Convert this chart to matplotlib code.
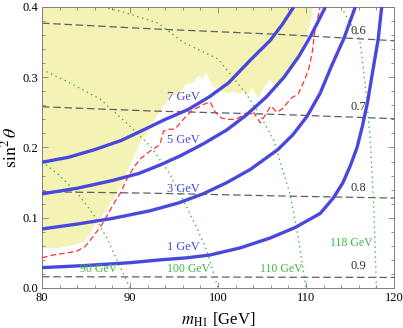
import numpy as np
from matplotlib import pyplot as plt
from matplotlib.ticker import MultipleLocator

plt.rcParams['font.family'] = ['Liberation Serif', 'DejaVu Serif']
plt.rcParams['mathtext.fontset'] = 'stix'

# datos leidos del grafico
# anchos de H1 (curvas azules)
w1_x = [80, 85, 90, 93.4, 96.5, 99.1, 102.5, 105.9, 108.75, 111.6, 113.1, 114.2, 115, 115.8, 116.4, 117.0, 117.6, 118.2, 118.6]
w1_y = [0.029, 0.032, 0.036, 0.040, 0.043, 0.047, 0.057, 0.071, 0.086, 0.106, 0.128, 0.150, 0.173, 0.200, 0.230, 0.265, 0.31, 0.354, 0.4]
w3_x = [80, 84, 88, 92.3, 95.5, 98.3, 101, 103.7, 106.8, 108.5, 110.1, 111.6, 112.9, 114.3, 115.6]
w3_y = [0.084, 0.091, 0.099, 0.110, 0.121, 0.134, 0.150, 0.169, 0.197, 0.218, 0.244, 0.277, 0.316, 0.355, 0.4]
w5_x = [80, 84, 88, 91, 93.4, 95.7, 98.3, 101, 103.1, 105.5, 107.5, 109.2, 110.5, 111.4, 112.2]
w5_y = [0.134, 0.142, 0.153, 0.163, 0.175, 0.188, 0.205, 0.225, 0.245, 0.272, 0.300, 0.330, 0.358, 0.38, 0.4]
w7_x = [80, 83, 86, 89, 91.7, 94, 96.6, 99, 101.2, 103.8, 105.9, 107.3, 108.6]
w7_y = [0.179, 0.186, 0.197, 0.210, 0.226, 0.240, 0.254, 0.272, 0.292, 0.326, 0.352, 0.375, 0.4]
anchos = ['1 GeV', '3 GeV', '5 GeV', '7 GeV']

# contornos grises
c_x = [80, 92.3, 107, 120]
c06 = [0.377, 0.369, 0.361, 0.352]
c07 = [0.258, 0.252, 0.247, 0.241]
c08 = [0.137, 0.135, 0.131, 0.128]
c09 = [0.016, 0.0158, 0.0153, 0.015]
c_lab = ['0.6', '0.7', '0.8', '0.9']

# masas (verde punteado)
m90_x = [80, 82, 84, 86, 87.5, 88.7, 90]
m90_y = [0.18, 0.16, 0.135, 0.102, 0.068, 0.035, 0.0]
m100_x = [80, 83, 86.6, 89.6, 92.3, 94.5, 96, 97.5, 98.7, 100]
m100_y = [0.311, 0.293, 0.269, 0.235, 0.202, 0.163, 0.126, 0.088, 0.054, 0.0]
m110_x = [87.0, 89.2, 93.2, 96, 100, 103.1, 104.6, 106.3, 108.2, 109.1, 110]
m110_y = [0.4, 0.393, 0.377, 0.35, 0.326, 0.278, 0.25, 0.211, 0.133, 0.073, 0.0]
m118_x = [114.0, 115.2, 116.1, 116.5, 116.9, 117.3, 117.7, 118.0]
m118_y = [0.4, 0.373, 0.354, 0.316, 0.269, 0.211, 0.116, 0.0]
masas = ['90 GeV', '100 GeV', '110 GeV', '118 GeV']

# limite rojo
r_x = [80, 81.3, 82.8, 83.9, 84.9, 85.8, 86.8, 87.35, 88.1, 88.9, 89.6, 90.4, 91.1, 92.3, 93.4, 93.8,
       94.35, 95.1, 95.9, 97.0, 98.3, 99.1, 99.7, 100.4, 101.2, 102.0, 102.7, 103.4, 104.1, 104.8,
       105.3, 106.0, 106.7, 107.3, 108.4, 109.1, 109.7, 110.3, 110.7, 111.0, 111.6]
r_y = [0.043, 0.047, 0.050, 0.052, 0.059, 0.073, 0.090, 0.102, 0.119, 0.135, 0.154, 0.171, 0.183, 0.195,
       0.204, 0.223, 0.226, 0.226, 0.238, 0.252, 0.261, 0.265, 0.250, 0.242, 0.240, 0.240, 0.245, 0.250,
       0.249, 0.235, 0.245, 0.259, 0.250, 0.255, 0.271, 0.276, 0.292, 0.311, 0.335, 0.365, 0.4]

# borde de la zona excluida (amarillo)
yb_x = [80, 82, 83.6, 84.7, 85.45, 86, 86.8, 87.7, 88.7, 89.4, 90.2, 90.8, 91.1, 91.9, 92.8, 93.8, 94.7,
        95.5, 96.4, 97.2, 97.8, 98.3, 98.7, 99.3, 100.4, 101.0, 101.7, 102.3, 102.9, 103.4, 103.8, 104.6,
        105.2, 105.9, 106.4, 106.9, 107.6, 108.4, 108.9, 109.3, 110.1, 110.6, 110.8]
yb_y = [0.057, 0.057, 0.061, 0.066, 0.078, 0.09, 0.102, 0.119, 0.14, 0.159, 0.18, 0.197, 0.207, 0.219,
        0.24, 0.259, 0.273, 0.277, 0.29, 0.293, 0.302, 0.298, 0.307, 0.288, 0.28, 0.277, 0.28, 0.276,
        0.28, 0.273, 0.285, 0.271, 0.285, 0.297, 0.287, 0.295, 0.300, 0.311, 0.321, 0.335, 0.359, 0.383, 0.4]

azul = '#4848dc'
verde = '#3fb83f'
gris = '#606060'

fig = plt.figure(figsize=(4.03, 3.28), dpi=100)
ax = fig.add_axes([0.1042, 0.122, 0.8735, 0.8567])

ax.fill(yb_x + [80], yb_y + [0.4], color='#f4f2b4', lw=0, zorder=1)

for cy in [c06, c07, c08, c09]:
    ax.plot(c_x, cy, color=gris, lw=0.9, ls=(0, (6, 3)), zorder=2)

for mx, my in [(m90_x, m90_y), (m100_x, m100_y), (m110_x, m110_y), (m118_x, m118_y)]:
    ax.plot(mx, my, color=verde, lw=1.0, ls=(0, (1, 2.6)), zorder=3)

ax.plot(r_x, r_y, color='#ff3030', lw=0.9, ls=(0, (4.5, 2.5)), zorder=4)

for wx, wy in [(w1_x, w1_y), (w3_x, w3_y), (w5_x, w5_y), (w7_x, w7_y)]:
    ax.plot(wx, wy, color=azul, lw=2.4, solid_capstyle='butt', solid_joinstyle='round', zorder=5)

# etiquetas
for lab, yy in zip(anchos, [0.0586, 0.141, 0.211, 0.272]):
    ax.text(96.1, yy, lab, color=azul, fontsize=9, ha='center', va='center', zorder=6)
for lab, xx, yy in zip(masas, [86.4, 96.7, 107.2, 115.1], [0.027, 0.027, 0.027, 0.064]):
    ax.text(xx, yy, lab, color=verde, fontsize=8.5, ha='center', va='center', zorder=6)
for lab, yy in zip(c_lab, [0.366, 0.258, 0.142, 0.031]):
    ax.text(116.0, yy, lab, color='#333333', fontsize=9, ha='center', va='center', zorder=6)

ax.set_xlim(80, 120)
ax.set_ylim(0, 0.4)
ax.xaxis.set_major_locator(MultipleLocator(10))
ax.xaxis.set_minor_locator(MultipleLocator(2))
ax.yaxis.set_minor_locator(MultipleLocator(0.02))
ax.set_yticks([0, 0.1, 0.2, 0.3, 0.4])
ax.set_yticklabels(['0.0', '0.1', '0.2', '0.3', '0.4'])
ax.tick_params(which='both', direction='in', top=True, right=True, color='#808080', labelsize=9, pad=3)
ax.tick_params(which='major', length=4, width=0.6)
ax.tick_params(which='minor', length=2.2, width=0.6)
for s in ax.spines.values():
    s.set_color('#808080')
    s.set_linewidth(0.7)

ax.set_xlabel(r'$m_{\rm H1}$ [GeV]', fontsize=12, labelpad=5)
ax.set_ylabel(r'$\sin^2\theta$', fontsize=13, labelpad=1)

plt.savefig('out.png', dpi=100)
